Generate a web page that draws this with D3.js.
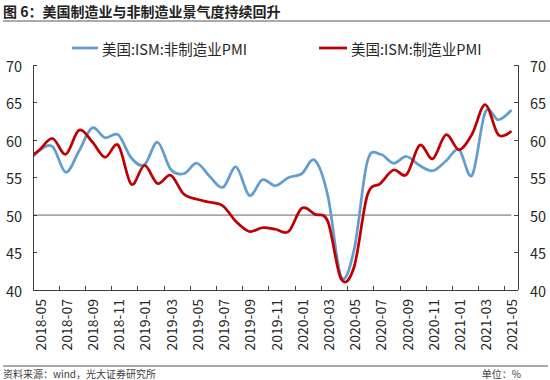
<!DOCTYPE html>
<html><head><meta charset="utf-8">
<script src="https://cdn.jsdelivr.net/npm/d3@7"></script>
<style>
html,body{margin:0;padding:0;background:#fff;}
svg{display:block;}
</style></head>
<body>
<script>
const months = ["2018-04","2018-05","2018-06","2018-07","2018-08","2018-09","2018-10","2018-11","2018-12",
"2019-01","2019-02","2019-03","2019-04","2019-05","2019-06","2019-07","2019-08","2019-09","2019-10","2019-11","2019-12",
"2020-01","2020-02","2020-03","2020-04","2020-05","2020-06","2020-07","2020-08","2020-09","2020-10","2020-11","2020-12",
"2021-01","2021-02","2021-03","2021-04","2021-05"];
const nonMfgPMI = [56.8,58.6,59.1,55.7,58.5,61.6,60.3,60.7,57.6,
56.7,59.7,56.1,55.5,56.9,55.1,53.7,56.4,52.6,54.7,53.9,55.0,
55.5,57.3,52.5,41.8,45.4,57.1,58.1,56.9,57.8,56.6,55.9,57.2,
58.7,55.3,63.7,62.7,64.0];
const mfgPMI = [57.3,58.7,60.2,58.1,61.3,59.8,57.7,59.3,54.1,
56.6,54.2,55.3,52.8,52.1,51.7,51.2,49.1,47.8,48.3,48.1,47.8,
50.9,50.1,49.1,41.5,43.1,52.6,54.2,56.0,55.4,59.3,57.5,60.7,
58.7,60.8,64.7,60.7,61.2];
const tickLabels = ["2018-05","2018-07","2018-09","2018-11","2019-01","2019-03","2019-05","2019-07","2019-09","2019-11",
"2020-01","2020-03","2020-05","2020-07","2020-09","2020-11","2021-01","2021-03","2021-05"];
const yTicks = [40,45,50,55,60,65,70];
const threshold = 50;
const seriesNames = ["美国:ISM:非制造业PMI","美国:ISM:制造业PMI"];
const title = "图 6：美国制造业与非制造业景气度持续回升";
const source = "资料来源：wind，光大证券研究所";
const unit = "单位：%";

const W=550,H=380;
const plotL=33, plotR=518, plotT=65, plotB=290;
const cjk = "'Noto Sans CJK SC','Noto Sans',sans-serif";
const numF = "'Noto Sans CJK SC','Noto Sans',sans-serif";
const blue="#629dd1", red="#c00000", axisC="#404040", txtC="#262626";

const svg = d3.select("body").append("svg").attr("width",W).attr("height",H);

const bw = (plotR-plotL)/(months.length-1);
const x = d3.scaleBand().domain(months).range([plotL-bw, plotR]).padding(0);
const cx = m => x(m)+x.bandwidth()/2;
const y = d3.scaleLinear().domain([40,70]).range([plotB, plotT]);

// title
svg.append("text").attr("x",3).attr("y",11).attr("dominant-baseline","central")
  .attr("font-family",cjk).attr("font-size",14).attr("font-weight","bold").attr("fill","#222").text(title);
svg.append("line").attr("x1",3).attr("x2",550).attr("y1",21).attr("y2",21).attr("stroke","#555").attr("stroke-width",1);

// legend
const leg = [{n:seriesNames[0],c:blue,x1:72,x2:98,tx:102},{n:seriesNames[1],c:red,x1:319,x2:347,tx:351}];
leg.forEach(l=>{
  svg.append("line").attr("x1",l.x1).attr("x2",l.x2).attr("y1",48).attr("y2",48).attr("stroke",l.c).attr("stroke-width",2.75);
  svg.append("text").attr("x",l.tx).attr("y",48).attr("dominant-baseline","central")
    .attr("font-family",cjk).attr("font-size",14.5).attr("fill",txtC).text(l.n);
});

// clip
svg.append("defs").append("clipPath").attr("id","clip").append("rect")
  .attr("x",plotL).attr("y",plotT-10).attr("width",plotR-plotL).attr("height",plotB-plotT+20);

const g = svg.append("g").attr("clip-path","url(#clip)");
const line = d3.line().x(d=>cx(d.m)).y(d=>y(d.v)).curve(d3.curveCardinal.tension(0));

g.append("path").datum(months.map(m=>({m,v:threshold})))
  .attr("d",d3.line().x(d=>cx(d.m)).y(d=>y(d.v))).attr("fill","none").attr("stroke","#a6a6a6").attr("stroke-width",1.75);
g.append("path").datum(months.map((m,i)=>({m,v:nonMfgPMI[i]})))
  .attr("d",line).attr("fill","none").attr("stroke",blue).attr("stroke-width",2.75).attr("stroke-linejoin","round");
g.append("path").datum(months.map((m,i)=>({m,v:mfgPMI[i]})))
  .attr("d",line).attr("fill","none").attr("stroke",red).attr("stroke-width",2.75).attr("stroke-linejoin","round");

// axes
const ax = svg.append("g").attr("stroke",axisC).attr("stroke-width",1).attr("shape-rendering","crispEdges");
ax.append("line").attr("x1",plotL).attr("x2",plotL).attr("y1",plotT).attr("y2",plotB);
ax.append("line").attr("x1",plotR).attr("x2",plotR).attr("y1",plotT).attr("y2",plotB);
ax.append("line").attr("x1",plotL).attr("x2",plotR).attr("y1",plotB).attr("y2",plotB);
yTicks.forEach(t=>{
  ax.append("line").attr("x1",plotL).attr("x2",plotL+4).attr("y1",y(t)).attr("y2",y(t));
  ax.append("line").attr("x1",plotR-4).attr("x2",plotR).attr("y1",y(t)).attr("y2",y(t));
});
tickLabels.slice(1).forEach(m=>{
  ax.append("line").attr("x1",x(m)).attr("x2",x(m)).attr("y1",plotB-4).attr("y2",plotB);
});

yTicks.forEach(t=>{
  svg.append("text").attr("x",22).attr("y",y(t)).attr("text-anchor","end").attr("dominant-baseline","central")
    .attr("font-family",numF).attr("font-size",14.5).attr("fill",txtC).text(t);
  svg.append("text").attr("x",530).attr("y",y(t)).attr("text-anchor","start").attr("dominant-baseline","central")
    .attr("font-family",numF).attr("font-size",14.5).attr("fill",txtC).text(t);
});
tickLabels.forEach(m=>{
  svg.append("text").attr("transform",`translate(${cx(m)},299) rotate(-90)`).attr("text-anchor","end")
    .attr("dominant-baseline","central").attr("font-family",numF).attr("font-size",14).attr("fill",txtC).text(m);
});

// footer
svg.append("line").attr("x1",3).attr("x2",548).attr("y1",366).attr("y2",366).attr("stroke","#555").attr("stroke-width",1);
svg.append("text").attr("x",3).attr("y",373).attr("dominant-baseline","central")
  .attr("font-family",cjk).attr("font-size",10).attr("fill","#404040").text(source);
svg.append("text").attr("x",521).attr("y",373).attr("text-anchor","end").attr("dominant-baseline","central")
  .attr("font-family",cjk).attr("font-size",10).attr("fill","#404040").text(unit);
</script>
</body></html>
